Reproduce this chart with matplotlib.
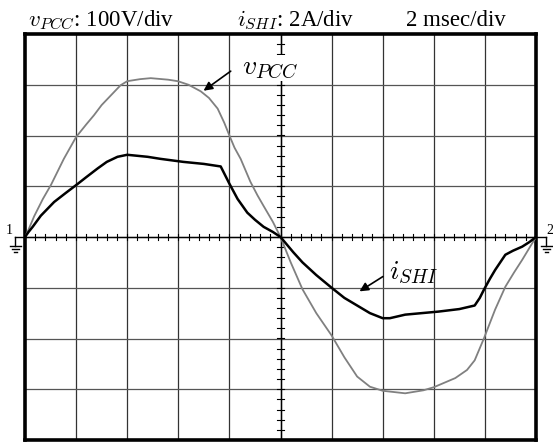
import numpy as np
import matplotlib
matplotlib.use("Agg")
import matplotlib.pyplot as plt
from matplotlib.lines import Line2D

plt.rcParams['font.family'] = ['Liberation Serif', 'DejaVu Serif']
plt.rcParams['mathtext.fontset'] = 'cm'

# --- trace data, in scope divisions (x: 0..10, y: -4..4) ---
v_pcc_t = [0, 0.05, 0.18, 0.35, 0.51, 0.76, 1.0, 1.2, 1.35, 1.5, 1.68, 1.87, 2.0,
           2.25, 2.46, 2.8, 2.99, 3.2, 3.44, 3.6, 3.77, 3.9, 4.0, 4.1, 4.22, 4.41,
           4.55, 4.67, 4.85, 5.0, 5.2, 5.43, 5.7, 6.0, 6.25, 6.5, 6.75, 7.0, 7.44,
           7.8, 8.0, 8.42, 8.65, 8.8, 8.98, 9.2, 9.4, 9.57, 9.73, 9.88, 10.0]
v_pcc = [0, 0.1, 0.41, 0.75, 1.03, 1.54, 1.97, 2.22, 2.4, 2.6, 2.79, 2.99, 3.07,
         3.11, 3.13, 3.1, 3.07, 3.0, 2.87, 2.74, 2.53, 2.25, 2.0, 1.76, 1.54, 1.09,
         0.82, 0.61, 0.3, 0, -0.5, -1.03, -1.5, -1.94, -2.37, -2.75, -2.95, -3.03, -3.08,
         -3.02, -2.96, -2.78, -2.62, -2.43, -2.0, -1.43, -0.98, -0.7, -0.45, -0.2, 0]

i_shi_t = [0, 0.07, 0.15, 0.31, 0.57, 0.8, 1.01, 1.2, 1.42, 1.6, 1.81, 2.0, 2.2,
           2.4, 2.65, 3.1, 3.5, 3.83, 3.9, 4.0, 4.16, 4.35, 4.5, 4.67, 4.85, 5.0,
           5.1, 5.25, 5.43, 5.7, 6.0, 6.25, 6.5, 6.75, 7.0, 7.14, 7.44, 8.09, 8.5,
           8.8, 8.9, 8.98, 9.1, 9.2, 9.4, 9.55, 9.73, 9.87, 10.0]
i_shi = [0, 0.1, 0.2, 0.42, 0.69, 0.87, 1.03, 1.18, 1.35, 1.48, 1.58, 1.62, 1.6,
         1.58, 1.54, 1.48, 1.44, 1.39, 1.25, 1.05, 0.75, 0.48, 0.34, 0.2, 0.1, 0,
         -0.12, -0.3, -0.5, -0.75, -1.0, -1.2, -1.35, -1.5, -1.6, -1.6, -1.53, -1.47, -1.42,
         -1.35, -1.2, -1.04, -0.82, -0.65, -0.35, -0.27, -0.19, -0.1, 0]

header = [r"$v_{PCC}$: 100V/div", r"$i_{SHI}$: 2A/div", "2 msec/div"]

W, H = 553, 443
fig = plt.figure(figsize=(W / 100, H / 100), dpi=100)

# --- scope screen ---
ax = fig.add_axes([25 / W, 1 - 440 / H, (536 - 25) / W, (440 - 34) / H])
ax.set_xlim(0, 10)
ax.set_ylim(-4, 4)
ax.set_xticks([])
ax.set_yticks([])
for s in ax.spines.values():
    s.set_linewidth(2.6)
    s.set_color('black')

for gx in range(1, 10):
    ax.axvline(gx, color='#333333', lw=0.9, zorder=1)
for gy in range(-3, 4):
    ax.axhline(gy, color='#555555', lw=0.9, zorder=1)

# center ticks every 0.2 div
ticks_x = np.arange(0, 10.01, 0.2)
ticks_y = np.arange(-4, 4.01, 0.2)
for tx in ticks_x:
    ax.plot([tx, tx], [-0.06, 0.06], color='black', lw=0.8, zorder=2)
for ty in ticks_y:
    ax.plot([4.93, 5.07], [ty, ty], color='black', lw=0.8, zorder=2)
ax.axhline(0, color='black', lw=1.0, zorder=2)
ax.axvline(5, color='black', lw=1.0, zorder=2)

ax.plot(v_pcc_t, v_pcc, color='#808080', lw=1.3, zorder=3)
ax.plot(i_shi_t, i_shi, color='black', lw=1.8, zorder=4)

ax.annotate("", xy=(3.45, 2.85), xytext=(4.07, 3.3),
            arrowprops=dict(arrowstyle='-|>', color='black', lw=1.2,
                            mutation_scale=13), zorder=5)
ax.text(4.25, 3.33, r"$v_{PCC}$", fontsize=20, va='center', ha='left', zorder=6,
        bbox=dict(facecolor='white', edgecolor='none', pad=0.5))
ax.annotate("", xy=(6.5, -1.1), xytext=(7.05, -0.75),
            arrowprops=dict(arrowstyle='-|>', color='black', lw=1.2,
                            mutation_scale=13), zorder=5)
ax.text(7.12, -0.7, r"$i_{SHI}$", fontsize=20, va='center', ha='left', zorder=6)

# --- overlay in pixel coords for header and ground markers ---
ov = fig.add_axes([0, 0, 1, 1], facecolor='none')
ov.set_xlim(0, W)
ov.set_ylim(H, 0)
ov.axis('off')

for txt, x0 in zip(header, [28, 237, 406]):
    ov.text(x0, 26, txt, fontsize=16.5, va='baseline', ha='left')


def ground(xa, xb, label, lx):
    ov.add_line(Line2D([xa, xb], [237, 237], color='black', lw=1.0))
    ov.add_line(Line2D([xb, xb], [237, 246], color='black', lw=1.0))
    for k, half in enumerate([5.5, 3.5, 1.5]):
        ov.add_line(Line2D([xb - half, xb + half], [246 + 3 * k, 246 + 3 * k],
                           color='black', lw=1.0))
    ov.text(lx, 234, label, fontsize=10, ha='center', va='baseline')


ground(25, 15, "1", 9)
ground(536, 546, "2", 550)

fig.savefig("out.png", dpi=100)
